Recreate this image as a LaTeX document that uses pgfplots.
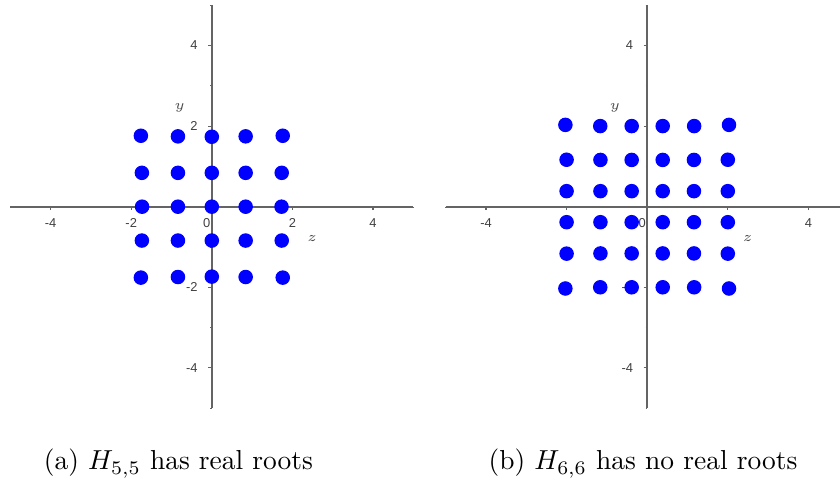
\documentclass[border=0pt]{standalone}
\usepackage{fontspec}
\usepackage{pgfplots}
\pgfplotsset{compat=1.18}

\newfontfamily\tickfam{Liberation Sans}

% one unit of the drawing grid
\newlength\px
\setlength\px{0.364pt}

\definecolor{dotblue}{RGB}{0,0,255}
\definecolor{axgray}{RGB}{100,100,100}

\newcommand\tickfont{\tickfam\fontsize{4.7}{5}\selectfont}

\tikzset{axlabel/.style={font=\fontsize{5}{6}\selectfont, text=black!70}}

\pgfplotsset{
  rootplot/.style={
    axis lines=middle,
    axis on top=true,
    x=40.3\px, y=40.3\px,
    xmin=-5, xmax=5, ymin=-5, ymax=5,
    anchor=origin,
    clip=false,
    axis line style={axgray, line width=0.65pt, -},
    xtick={-4,-2,2,4},
    xticklabels={-4,-2,2,4},
    ytick={-4,-2,2,4},
    yticklabels={-4,-2,2,4},
    minor xtick={-5,-3,-1,1,3,5},
    minor ytick={-5,-3,-1,1,3,5},
    extra x ticks={0},
    extra x tick labels={0},
    extra x tick style={xticklabel style={xshift=-5\px}},
    tick align=outside,
    major tick length=3.5\px,
    minor tick length=1.5\px,
    every tick/.style={axgray, line width=0.4pt},
    tick label style={font=\tickfont, text=black!75},
    xticklabel style={yshift=1.5\px},
    yticklabel style={xshift=-1\px},
    hide obscured x ticks=false,
    hide obscured y ticks=false,
  },
  rootdots/.style={only marks, mark=*, mark size=6.7\px,
    mark options={draw=dotblue, fill=dotblue}},
}

\begin{document}
\begin{tikzpicture}
\useasboundingbox (0,0) rectangle (840\px,-487\px);

% H_{5,5}: 25 roots in the real (z,y) plane
\begin{axis}[rootplot, at={(211.8\px,-206.7\px)}]
\addplot[rootdots] coordinates {
  (-1.76,1.76) (-0.84,1.745) (0,1.735) (0.84,1.745) (1.76,1.76)
  (-1.735,0.84) (-0.84,0.84) (0,0.84) (0.84,0.84) (1.735,0.84)
  (-1.73,0) (-0.84,0) (0,0) (0.84,0) (1.73,0)
  (-1.735,-0.84) (-0.84,-0.84) (0,-0.84) (0.84,-0.84) (1.735,-0.84)
  (-1.76,-1.76) (-0.84,-1.745) (0,-1.735) (0.84,-1.745) (1.76,-1.76)
};
\node[axlabel] at (axis cs:-0.8,2.45) {$y$};
\node[axlabel] at (axis cs:2.49,-0.78) {$z$};
\end{axis}

% H_{6,6}: 36 roots, none on the axes
\begin{axis}[rootplot, at={(647.2\px,-206.7\px)}]
\addplot[rootdots] coordinates {
  (-2.03,2.03) (-1.165,2.0) (-0.385,2.0) (0.385,2.0) (1.165,2.0) (2.03,2.03)
  (-2.0,1.165) (-1.16,1.16) (-0.385,1.16) (0.385,1.16) (1.16,1.16) (2.0,1.165)
  (-2.0,0.385) (-1.16,0.385) (-0.385,0.385) (0.385,0.385) (1.16,0.385) (2.0,0.385)
  (-2.0,-0.385) (-1.16,-0.385) (-0.385,-0.385) (0.385,-0.385) (1.16,-0.385) (2.0,-0.385)
  (-2.0,-1.165) (-1.16,-1.16) (-0.385,-1.16) (0.385,-1.16) (1.16,-1.16) (2.0,-1.165)
  (-2.03,-2.03) (-1.165,-2.0) (-0.385,-2.0) (0.385,-2.0) (1.165,-2.0) (2.03,-2.03)
};
\node[axlabel] at (axis cs:-0.8,2.45) {$y$};
\node[axlabel] at (axis cs:2.49,-0.78) {$z$};
\end{axis}

\node[anchor=base] at (178.5\px,-470\px) {(a) $H_{5,5}$ has real roots};
\node[anchor=base] at (643\px,-470\px) {(b) $H_{6,6}$ has no real roots};
\end{tikzpicture}
\end{document}
